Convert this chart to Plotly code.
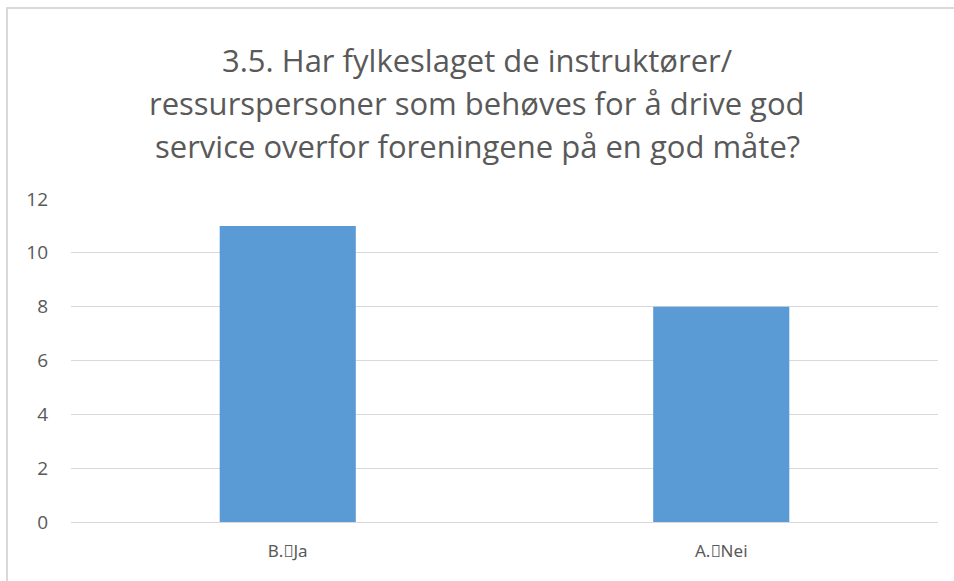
import plotly.graph_objects as go

categories = ["B.\uf020Ja", "A.\uf020Nei"]
values = [11, 8]
title_lines = [
    "3.5. Har fylkeslaget de instruktører/",
    "ressurspersoner som behøves for å drive god",
    "service overfor foreningene på en god måte?",
]
y_ticks = [0, 2, 4, 6, 8, 10, 12]

W, H = 954, 581
L, R, T, B = 71, 16, 199, 59
pw, ph = W - L - R, H - T - B

def px_x(x):
    return (x - L) / pw

def px_y(y):
    return (H - B - y) / ph

FONT = "Open Sans"
TXT = "#595959"
BORDER = dict(color="#d9d9d9", width=2)

fig = go.Figure(go.Bar(
    x=categories, y=values, marker_color="#5B9BD5", marker_line_width=0,
    width=0.314,
))

annotations = []
for line, ypx in zip(title_lines, [60, 103, 146]):
    annotations.append(dict(
        text=line, xref="paper", yref="paper", x=px_x(477), y=px_y(ypx),
        xanchor="center", yanchor="middle", showarrow=False,
        font=dict(family=FONT, size=31, color=TXT),
    ))

fig.update_layout(
    width=W, height=H,
    margin=dict(l=L, r=R, t=T, b=B, pad=0),
    paper_bgcolor="white", plot_bgcolor="white",
    showlegend=False,
    annotations=annotations,
    shapes=[
        dict(type="line", xref="paper", yref="paper",
             x0=px_x(7), x1=px_x(7), y0=px_y(H + 5), y1=px_y(7),
             line=BORDER, layer="below"),
        dict(type="line", xref="paper", yref="paper",
             x0=px_x(6), x1=px_x(W + 5), y0=px_y(8), y1=px_y(8),
             line=BORDER, layer="below"),
    ],
    xaxis=dict(
        showgrid=False, showline=False, ticks="", zeroline=False,
        tickfont=dict(family="Noto Sans", size=17, color=TXT),
        ticklabelstandoff=17,
    ),
    yaxis=dict(
        range=[0, 12], tickvals=y_ticks, showgrid=True, gridcolor="#d9d9d9",
        gridwidth=1.3, zeroline=True, zerolinecolor="#d9d9d9", zerolinewidth=1.3,
        showline=False, ticks="",
        tickfont=dict(family=FONT, size=19, color=TXT),
        ticklabelstandoff=22,
    ),
)

fig.write_html(
    "out.html",
    config={"displayModeBar": False},
    post_script="document.body.style.margin='0';document.body.style.overflow='hidden';",
)
